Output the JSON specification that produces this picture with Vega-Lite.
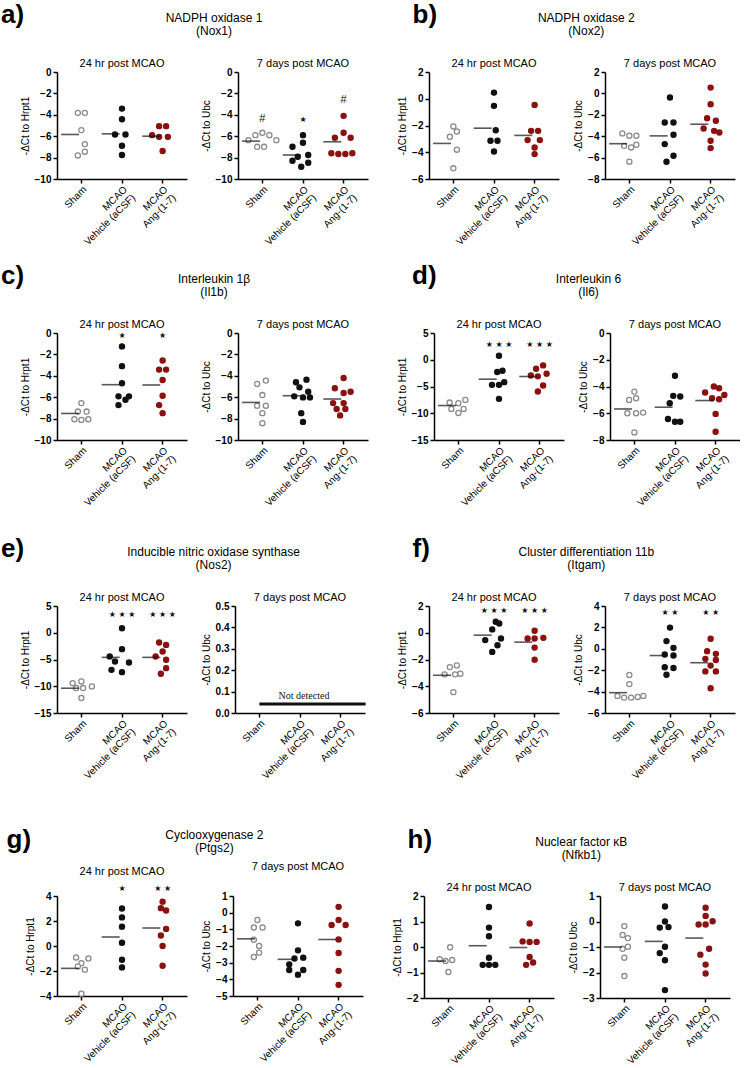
{
"$schema": "https://vega.github.io/schema/vega-lite/v6.json",
"background": "white",
"padding": {"left": 1, "top": 2, "right": 0, "bottom": 0},
"datasets": {
"pts": [
{"p":"a24","g":"S","s":-0.5,"v":-3.82},{"p":"a24","g":"S","s":0.5,"v":-3.82},{"p":"a24","g":"S","s":0,"v":-5.43},{"p":"a24","g":"S","s":0.5,"v":-6.74},{"p":"a24","g":"S","s":0.5,"v":-7.45},{"p":"a24","g":"S","s":-0.5,"v":-7.8},
{"p":"a24","g":"V","s":0,"v":-3.42},{"p":"a24","g":"V","s":0,"v":-4.41},{"p":"a24","g":"V","s":-1,"v":-5.84},{"p":"a24","g":"V","s":0.5,"v":-5.84},{"p":"a24","g":"V","s":0,"v":-6.89},{"p":"a24","g":"V","s":0,"v":-7.76},
{"p":"a24","g":"A","s":-0.5,"v":-5.06},{"p":"a24","g":"A","s":0.5,"v":-5.06},{"p":"a24","g":"A","s":-1.5,"v":-5.9},{"p":"a24","g":"A","s":-0.5,"v":-6.06},{"p":"a24","g":"A","s":0.75,"v":-6.06},{"p":"a24","g":"A","s":0,"v":-7.39},
{"p":"a7","g":"S","s":-1,"v":-5.9},{"p":"a7","g":"S","s":0,"v":-5.68},{"p":"a7","g":"S","s":1,"v":-5.9},{"p":"a7","g":"S","s":-2,"v":-6.37},{"p":"a7","g":"S","s":2,"v":-6.37},{"p":"a7","g":"S","s":-0.75,"v":-6.99},{"p":"a7","g":"S","s":0.25,"v":-6.99},
{"p":"a7","g":"V","s":0,"v":-5.9},{"p":"a7","g":"V","s":0,"v":-6.61},{"p":"a7","g":"V","s":-1.5,"v":-6.99},{"p":"a7","g":"V","s":0.75,"v":-7.76},{"p":"a7","g":"V","s":-0.75,"v":-7.92},{"p":"a7","g":"V","s":-1.5,"v":-8.29},{"p":"a7","g":"V","s":0.75,"v":-8.48},{"p":"a7","g":"V","s":-0.25,"v":-8.85},
{"p":"a7","g":"A","s":0,"v":-4.1},{"p":"a7","g":"A","s":0,"v":-5.68},{"p":"a7","g":"A","s":-1.25,"v":-6.15},{"p":"a7","g":"A","s":1,"v":-6.15},{"p":"a7","g":"A","s":-1.75,"v":-7.6},{"p":"a7","g":"A","s":-0.75,"v":-7.67},{"p":"a7","g":"A","s":0.25,"v":-7.67},{"p":"a7","g":"A","s":1.25,"v":-7.6},
{"p":"b24","g":"S","s":0,"v":-2.07},{"p":"b24","g":"S","s":0.5,"v":-2.45},{"p":"b24","g":"S","s":-0.5,"v":-2.84},{"p":"b24","g":"S","s":0.5,"v":-3.81},{"p":"b24","g":"S","s":0,"v":-5.2},
{"p":"b24","g":"V","s":0,"v":0.46},{"p":"b24","g":"V","s":0,"v":-0.53},{"p":"b24","g":"V","s":0.25,"v":-2.35},{"p":"b24","g":"V","s":-0.5,"v":-3.14},{"p":"b24","g":"V","s":0.5,"v":-3.14},{"p":"b24","g":"V","s":0,"v":-3.94},
{"p":"b24","g":"A","s":0,"v":-0.46},{"p":"b24","g":"A","s":-0.5,"v":-2.4},{"p":"b24","g":"A","s":0.5,"v":-2.4},{"p":"b24","g":"A","s":-1,"v":-3.09},{"p":"b24","g":"A","s":0.75,"v":-3.09},{"p":"b24","g":"A","s":0,"v":-3.64},{"p":"b24","g":"A","s":0,"v":-4.14},
{"p":"b7","g":"S","s":-1,"v":-3.74},{"p":"b7","g":"S","s":0,"v":-3.96},{"p":"b7","g":"S","s":1,"v":-3.96},{"p":"b7","g":"S","s":-0.75,"v":-4.9},{"p":"b7","g":"S","s":1,"v":-4.8},{"p":"b7","g":"S","s":0.25,"v":-5.05},{"p":"b7","g":"S","s":0,"v":-6.38},
{"p":"b7","g":"V","s":0,"v":-0.39},{"p":"b7","g":"V","s":-0.75,"v":-2.72},{"p":"b7","g":"V","s":0.5,"v":-2.72},{"p":"b7","g":"V","s":0.5,"v":-3.87},{"p":"b7","g":"V","s":-0.75,"v":-4.74},{"p":"b7","g":"V","s":0.5,"v":-5.83},{"p":"b7","g":"V","s":-0.5,"v":-6.39},
{"p":"b7","g":"A","s":0,"v":0.54},{"p":"b7","g":"A","s":0,"v":-1.01},{"p":"b7","g":"A","s":-0.5,"v":-2.32},{"p":"b7","g":"A","s":0.75,"v":-2.56},{"p":"b7","g":"A","s":-1,"v":-3.28},{"p":"b7","g":"A","s":0.5,"v":-3.5},{"p":"b7","g":"A","s":1.25,"v":-3.65},{"p":"b7","g":"A","s":0,"v":-4.43},{"p":"b7","g":"A","s":0,"v":-5.11},
{"p":"c24","g":"S","s":0,"v":-6.55},{"p":"c24","g":"S","s":-0.5,"v":-7.34},{"p":"c24","g":"S","s":0.75,"v":-7.34},{"p":"c24","g":"S","s":-1,"v":-8.06},{"p":"c24","g":"S","s":0,"v":-8.12},{"p":"c24","g":"S","s":1,"v":-8.06},
{"p":"c24","g":"V","s":0,"v":-1.25},{"p":"c24","g":"V","s":0,"v":-3.1},{"p":"c24","g":"V","s":0,"v":-4.7},{"p":"c24","g":"V","s":-0.5,"v":-5.92},{"p":"c24","g":"V","s":1,"v":-5.92},{"p":"c24","g":"V","s":0.5,"v":-6.24},{"p":"c24","g":"V","s":-0.5,"v":-6.74},
{"p":"c24","g":"A","s":0,"v":-2.57},{"p":"c24","g":"A","s":-0.5,"v":-3.42},{"p":"c24","g":"A","s":0.5,"v":-3.42},{"p":"c24","g":"A","s":0,"v":-4.39},{"p":"c24","g":"A","s":0,"v":-5.86},{"p":"c24","g":"A","s":-0.5,"v":-6.74},{"p":"c24","g":"A","s":0,"v":-7.49},
{"p":"c7","g":"S","s":0.5,"v":-4.45},{"p":"c7","g":"S","s":-0.75,"v":-4.76},{"p":"c7","g":"S","s":0,"v":-5.8},{"p":"c7","g":"S","s":-0.75,"v":-6.8},{"p":"c7","g":"S","s":0.5,"v":-6.8},{"p":"c7","g":"S","s":0,"v":-7.49},{"p":"c7","g":"S","s":0,"v":-8.43},
{"p":"c7","g":"V","s":-1,"v":-4.6},{"p":"c7","g":"V","s":0.5,"v":-4.36},{"p":"c7","g":"V","s":-0.5,"v":-5.08},{"p":"c7","g":"V","s":0.75,"v":-5.49},{"p":"c7","g":"V","s":-1.25,"v":-5.92},{"p":"c7","g":"V","s":0,"v":-6.02},{"p":"c7","g":"V","s":1,"v":-6.02},{"p":"c7","g":"V","s":-0.25,"v":-7.49},{"p":"c7","g":"V","s":0,"v":-8.31},
{"p":"c7","g":"A","s":0,"v":-4.2},{"p":"c7","g":"A","s":-1.25,"v":-5.17},{"p":"c7","g":"A","s":0,"v":-5.61},{"p":"c7","g":"A","s":1,"v":-5.49},{"p":"c7","g":"A","s":-1.5,"v":-6.55},{"p":"c7","g":"A","s":0,"v":-6.55},{"p":"c7","g":"A","s":-1,"v":-7.1},{"p":"c7","g":"A","s":0.25,"v":-7.1},{"p":"c7","g":"A","s":-0.5,"v":-7.7},
{"p":"d24","g":"S","s":-1.25,"v":-8.0},{"p":"d24","g":"S","s":0,"v":-8.12},{"p":"d24","g":"S","s":1,"v":-7.5},{"p":"d24","g":"S","s":-1,"v":-9.19},{"p":"d24","g":"S","s":0.75,"v":-9.19},{"p":"d24","g":"S","s":0,"v":-9.94},
{"p":"d24","g":"V","s":0,"v":0.75},{"p":"d24","g":"V","s":0.5,"v":-2.06},{"p":"d24","g":"V","s":-0.25,"v":-2.3},{"p":"d24","g":"V","s":0.75,"v":-4.19},{"p":"d24","g":"V","s":-1,"v":-4.69},{"p":"d24","g":"V","s":0,"v":-4.69},{"p":"d24","g":"V","s":0,"v":-7.31},
{"p":"d24","g":"A","s":0.5,"v":-1.06},{"p":"d24","g":"A","s":-0.5,"v":-1.69},{"p":"d24","g":"A","s":-1.25,"v":-2.94},{"p":"d24","g":"A","s":-0.25,"v":-3.1},{"p":"d24","g":"A","s":1,"v":-2.6},{"p":"d24","g":"A","s":0.5,"v":-4.8},{"p":"d24","g":"A","s":-0.25,"v":-5.94},
{"p":"d7","g":"S","s":0,"v":-4.38},{"p":"d7","g":"S","s":-0.75,"v":-5.0},{"p":"d7","g":"S","s":0.25,"v":-4.88},{"p":"d7","g":"S","s":-1,"v":-6.0},{"p":"d7","g":"S","s":0.25,"v":-6.0},{"p":"d7","g":"S","s":1.25,"v":-5.95},{"p":"d7","g":"S","s":0,"v":-7.43},
{"p":"d7","g":"V","s":0,"v":-3.2},{"p":"d7","g":"V","s":-0.25,"v":-4.7},{"p":"d7","g":"V","s":0.75,"v":-4.75},{"p":"d7","g":"V","s":-0.75,"v":-5.25},{"p":"d7","g":"V","s":-1,"v":-6.43},{"p":"d7","g":"V","s":0,"v":-6.63},{"p":"d7","g":"V","s":0.75,"v":-6.63},
{"p":"d7","g":"A","s":-0.25,"v":-4.0},{"p":"d7","g":"A","s":0.5,"v":-4.13},{"p":"d7","g":"A","s":-1.5,"v":-4.45},{"p":"d7","g":"A","s":1.25,"v":-4.63},{"p":"d7","g":"A","s":-0.5,"v":-4.88},{"p":"d7","g":"A","s":0.5,"v":-4.95},{"p":"d7","g":"A","s":0,"v":-6.05},{"p":"d7","g":"A","s":0,"v":-7.38},
{"p":"e24","g":"S","s":-1.25,"v":-9.41},{"p":"e24","g":"S","s":0,"v":-9.1},{"p":"e24","g":"S","s":-0.75,"v":-10.34},{"p":"e24","g":"S","s":0.25,"v":-10.34},{"p":"e24","g":"S","s":1.5,"v":-10.03},{"p":"e24","g":"S","s":0,"v":-12.2},
{"p":"e24","g":"V","s":0,"v":0.84},{"p":"e24","g":"V","s":0,"v":-3.07},{"p":"e24","g":"V","s":-1.75,"v":-4.44},{"p":"e24","g":"V","s":-1,"v":-5.37},{"p":"e24","g":"V","s":1,"v":-5.56},{"p":"e24","g":"V","s":-1.5,"v":-6.93},{"p":"e24","g":"V","s":0,"v":-7.36},
{"p":"e24","g":"A","s":-0.5,"v":-1.83},{"p":"e24","g":"A","s":0.5,"v":-2.27},{"p":"e24","g":"A","s":0,"v":-3.51},{"p":"e24","g":"A","s":-1,"v":-4.44},{"p":"e24","g":"A","s":0.5,"v":-5.06},{"p":"e24","g":"A","s":0.5,"v":-6.62},{"p":"e24","g":"A","s":-0.25,"v":-7.67},
{"p":"f24","g":"S","s":-0.5,"v":-2.57},{"p":"f24","g":"S","s":0.5,"v":-2.44},{"p":"f24","g":"S","s":-1.25,"v":-3.11},{"p":"f24","g":"S","s":0.25,"v":-3.11},{"p":"f24","g":"S","s":1,"v":-3.06},{"p":"f24","g":"S","s":0,"v":-4.44},
{"p":"f24","g":"V","s":0.25,"v":0.82},{"p":"f24","g":"V","s":0.75,"v":0.69},{"p":"f24","g":"V","s":-0.25,"v":0.25},{"p":"f24","g":"V","s":1,"v":-0.43},{"p":"f24","g":"V","s":-1.25,"v":-0.55},{"p":"f24","g":"V","s":0.5,"v":-0.93},{"p":"f24","g":"V","s":-0.25,"v":-1.43},
{"p":"f24","g":"A","s":0,"v":0.15},{"p":"f24","g":"A","s":-1,"v":-0.43},{"p":"f24","g":"A","s":0,"v":-0.43},{"p":"f24","g":"A","s":1.25,"v":-0.38},{"p":"f24","g":"A","s":0,"v":-1.11},{"p":"f24","g":"A","s":0,"v":-2.01},
{"p":"f7","g":"S","s":0,"v":-2.45},{"p":"f7","g":"S","s":0,"v":-3.3},{"p":"f7","g":"S","s":-1.7,"v":-4.4},{"p":"f7","g":"S","s":-0.75,"v":-4.56},{"p":"f7","g":"S","s":0.25,"v":-4.56},{"p":"f7","g":"S","s":1.2,"v":-4.5},{"p":"f7","g":"S","s":2,"v":-4.4},
{"p":"f7","g":"V","s":0,"v":1.98},{"p":"f7","g":"V","s":-0.5,"v":0.72},{"p":"f7","g":"V","s":0.5,"v":0.09},{"p":"f7","g":"V","s":-0.75,"v":-0.53},{"p":"f7","g":"V","s":0.5,"v":-0.63},{"p":"f7","g":"V","s":-0.75,"v":-1.73},{"p":"f7","g":"V","s":0.5,"v":-1.79},{"p":"f7","g":"V","s":-0.5,"v":-2.42},
{"p":"f7","g":"A","s":0,"v":0.94},{"p":"f7","g":"A","s":-0.5,"v":-0.22},{"p":"f7","g":"A","s":0.75,"v":-0.47},{"p":"f7","g":"A","s":-0.75,"v":-0.94},{"p":"f7","g":"A","s":0.75,"v":-1.04},{"p":"f7","g":"A","s":0,"v":-1.57},{"p":"f7","g":"A","s":0.75,"v":-2.11},{"p":"f7","g":"A","s":-0.75,"v":-2.11},{"p":"f7","g":"A","s":0,"v":-3.68},
{"p":"g24","g":"S","s":-0.75,"v":-0.92},{"p":"g24","g":"S","s":1,"v":-1.0},{"p":"g24","g":"S","s":0,"v":-1.37},{"p":"g24","g":"S","s":-0.5,"v":-1.63},{"p":"g24","g":"S","s":0.5,"v":-1.89},{"p":"g24","g":"S","s":0,"v":-3.82},
{"p":"g24","g":"V","s":0,"v":3.0},{"p":"g24","g":"V","s":0,"v":2.29},{"p":"g24","g":"V","s":0,"v":1.55},{"p":"g24","g":"V","s":0,"v":0.26},{"p":"g24","g":"V","s":0,"v":-1.1},{"p":"g24","g":"V","s":0,"v":-1.71},
{"p":"g24","g":"A","s":0,"v":3.55},{"p":"g24","g":"A","s":-0.25,"v":3.03},{"p":"g24","g":"A","s":0.5,"v":2.84},{"p":"g24","g":"A","s":0.5,"v":1.37},{"p":"g24","g":"A","s":-0.25,"v":0.84},{"p":"g24","g":"A","s":0,"v":0.0},{"p":"g24","g":"A","s":0,"v":-1.58},
{"p":"g7","g":"S","s":0,"v":-0.44},{"p":"g7","g":"S","s":-0.5,"v":-0.89},{"p":"g7","g":"S","s":0.75,"v":-0.89},{"p":"g7","g":"S","s":-0.5,"v":-1.62},{"p":"g7","g":"S","s":0.25,"v":-2.0},{"p":"g7","g":"S","s":0.25,"v":-2.4},{"p":"g7","g":"S","s":-0.5,"v":-2.66},
{"p":"g7","g":"V","s":0,"v":-0.64},{"p":"g7","g":"V","s":0,"v":-2.26},{"p":"g7","g":"V","s":0.75,"v":-2.7},{"p":"g7","g":"V","s":-0.5,"v":-2.75},{"p":"g7","g":"V","s":-1.25,"v":-3.1},{"p":"g7","g":"V","s":0.75,"v":-3.44},{"p":"g7","g":"V","s":-1.25,"v":-3.44},{"p":"g7","g":"V","s":0,"v":-3.72},
{"p":"g7","g":"A","s":0,"v":0.35},{"p":"g7","g":"A","s":0,"v":-0.44},{"p":"g7","g":"A","s":-1,"v":-0.74},{"p":"g7","g":"A","s":1,"v":-0.74},{"p":"g7","g":"A","s":0,"v":-1.61},{"p":"g7","g":"A","s":0,"v":-2.42},{"p":"g7","g":"A","s":0,"v":-3.49},{"p":"g7","g":"A","s":0,"v":-4.33},
{"p":"h24","g":"S","s":0.25,"v":-0.01},{"p":"h24","g":"S","s":-1.25,"v":-0.48},{"p":"h24","g":"S","s":-0.4,"v":-0.55},{"p":"h24","g":"S","s":0.55,"v":-0.51},{"p":"h24","g":"S","s":0,"v":-0.98},
{"p":"h24","g":"V","s":0,"v":1.57},{"p":"h24","g":"V","s":0,"v":0.76},{"p":"h24","g":"V","s":0,"v":0.42},{"p":"h24","g":"V","s":0,"v":-0.42},{"p":"h24","g":"V","s":-0.9,"v":-0.7},{"p":"h24","g":"V","s":0,"v":-0.7},{"p":"h24","g":"V","s":0.9,"v":-0.7},
{"p":"h24","g":"A","s":0,"v":0.92},{"p":"h24","g":"A","s":-1,"v":0.22},{"p":"h24","g":"A","s":0,"v":0.2},{"p":"h24","g":"A","s":1,"v":0.2},{"p":"h24","g":"A","s":0,"v":-0.39},{"p":"h24","g":"A","s":0.5,"v":-0.61},{"p":"h24","g":"A","s":-0.5,"v":-0.7},
{"p":"h7","g":"S","s":0,"v":-0.18},{"p":"h7","g":"S","s":-0.25,"v":-0.53},{"p":"h7","g":"S","s":0.5,"v":-0.65},{"p":"h7","g":"S","s":-0.25,"v":-1.07},{"p":"h7","g":"S","s":0.5,"v":-0.99},{"p":"h7","g":"S","s":0,"v":-1.42},{"p":"h7","g":"S","s":0,"v":-2.14},
{"p":"h7","g":"V","s":0,"v":0.59},{"p":"h7","g":"V","s":0,"v":0.0},{"p":"h7","g":"V","s":-0.75,"v":-0.24},{"p":"h7","g":"V","s":0.5,"v":-0.22},{"p":"h7","g":"V","s":0,"v":-0.99},{"p":"h7","g":"V","s":-0.75,"v":-1.24},{"p":"h7","g":"V","s":0,"v":-1.52},{"p":"h7","g":"V","s":0,"v":-2.69},
{"p":"h7","g":"A","s":0,"v":0.54},{"p":"h7","g":"A","s":0,"v":0.22},{"p":"h7","g":"A","s":-1,"v":-0.12},{"p":"h7","g":"A","s":0,"v":-0.12},{"p":"h7","g":"A","s":1,"v":0.01},{"p":"h7","g":"A","s":0.5,"v":-1.07},{"p":"h7","g":"A","s":-0.75,"v":-1.3},{"p":"h7","g":"A","s":0,"v":-1.69},{"p":"h7","g":"A","s":0,"v":-2.04}
],
"mean": [
{"p":"a24","g":"S","v":-5.84},{"p":"a24","g":"V","v":-5.78},{"p":"a24","g":"A","v":-6.0},
{"p":"a7","g":"S","v":-6.46},{"p":"a7","g":"V","v":-7.76},{"p":"a7","g":"A","v":-6.52},
{"p":"b24","g":"S","v":-3.34},{"p":"b24","g":"V","v":-2.2},{"p":"b24","g":"A","v":-2.74},
{"p":"b7","g":"S","v":-4.7},{"p":"b7","g":"V","v":-3.97},{"p":"b7","g":"A","v":-2.88},
{"p":"c24","g":"S","v":-7.52},{"p":"c24","g":"V","v":-4.83},{"p":"c24","g":"A","v":-4.86},
{"p":"c7","g":"S","v":-6.49},{"p":"c7","g":"V","v":-5.86},{"p":"c7","g":"A","v":-6.17},
{"p":"d24","g":"S","v":-8.56},{"p":"d24","g":"V","v":-3.63},{"p":"d24","g":"A","v":-3.13},
{"p":"d7","g":"S","v":-5.68},{"p":"d7","g":"V","v":-5.55},{"p":"d7","g":"A","v":-5.05},
{"p":"e24","g":"S","v":-10.37},{"p":"e24","g":"V","v":-4.6},{"p":"e24","g":"A","v":-4.6},
{"p":"f24","g":"S","v":-3.18},{"p":"f24","g":"V","v":-0.18},{"p":"f24","g":"A","v":-0.7},
{"p":"f7","g":"S","v":-4.1},{"p":"f7","g":"V","v":-0.63},{"p":"f7","g":"A","v":-1.3},
{"p":"g24","g":"S","v":-1.79},{"p":"g24","g":"V","v":0.72},{"p":"g24","g":"A","v":1.44},
{"p":"g7","g":"S","v":-1.57},{"p":"g7","g":"V","v":-2.8},{"p":"g7","g":"A","v":-1.61},
{"p":"h24","g":"S","v":-0.55},{"p":"h24","g":"V","v":0.05},{"p":"h24","g":"A","v":-0.02},
{"p":"h7","g":"S","v":-1.0},{"p":"h7","g":"V","v":-0.78},{"p":"h7","g":"A","v":-0.65}
],
"sig": [
{"p":"a7","g":"S","v":-4.35,"t":"#"},{"p":"a7","g":"V","v":-4.5,"t":"★"},{"p":"a7","g":"A","v":-2.58,"t":"#"},
{"p":"c24","g":"V","v":-0.28,"t":"★"},{"p":"c24","g":"A","v":-0.28,"t":"★"},
{"p":"d24","g":"V","v":2.81,"t":"★ ★ ★"},{"p":"d24","g":"A","v":2.81,"t":"★ ★ ★"},
{"p":"e24","g":"V","v":3.32,"t":"★ ★ ★"},{"p":"e24","g":"A","v":3.32,"t":"★ ★ ★"},
{"p":"f24","g":"V","v":1.65,"t":"★ ★ ★"},{"p":"f24","g":"A","v":1.65,"t":"★ ★ ★"},
{"p":"f7","g":"V","v":3.3,"t":"★ ★"},{"p":"f7","g":"A","v":3.3,"t":"★ ★"},
{"p":"g24","g":"V","v":4.53,"t":"★"},{"p":"g24","g":"A","v":4.53,"t":"★ ★"}
],
"nd": [{"p":"e7","g":"S","g2":"A","v":0.042}],
"ndt": [{"p":"e7","g":"V","v":0.058,"t":"Not detected"}]
},
"vconcat": [
{"hconcat": [
 {"title":{"text":"a)","anchor":"start","fontSize":26,"fontWeight":"bold","offset":-16,"dx":-19,"frame":"bounds"},
  "vconcat":[{"title":{"text":["NADPH oxidase 1","(Nox1)"],"anchor":"middle","fontSize":12,"offset":20,"lineHeight":13,"frame":"bounds","dx":20},"spacing":14,
  "hconcat":[
   {"width":130,"height":107,"title":"24 hr post MCAO",
    "encoding":{"x":{"field":"g","type":"nominal","scale":{"type":"band","domain":["S","V","A"],"paddingInner":0,"paddingOuter":0.1},"axis":{"title":null,"labelExpr":"datum.label=='S'?'Sham':datum.label=='V'?['MCAO','Vehicle (aCSF)']:['MCAO','Ang-(1-7)']"}},
     "y":{"field":"v","type":"quantitative","scale":{"domain":[-10,0],"nice":false,"zero":false},"axis":{"title":"-ΔCt to Hrpt1","values":[0,-2,-4,-6,-8,-10]}}},
    "layer":[
     {"data":{"name":"pts"},"transform":[{"filter":"datum.p=='a24'"}],"mark":"point","encoding":{"xOffset":{"field":"s","type":"quantitative","scale":{"domain":[-4,4],"range":[-7.7,48.3]}},"fill":{"field":"g","type":"nominal","scale":{"domain":["S","V","A"],"range":["#ffffff","#111111","#8b1111"]},"legend":null},"stroke":{"field":"g","type":"nominal","scale":{"domain":["S","V","A"],"range":["#8a8a8a","#111111","#8b1111"]},"legend":null}}},
     {"data":{"name":"mean"},"transform":[{"filter":"datum.p=='a24'"}],"mark":"tick"}
    ]},
   {"width":130,"height":107,"title":"7 days post MCAO",
    "encoding":{"x":{"field":"g","type":"nominal","scale":{"type":"band","domain":["S","V","A"],"paddingInner":0,"paddingOuter":0.1},"axis":{"title":null,"labelExpr":"datum.label=='S'?'Sham':datum.label=='V'?['MCAO','Vehicle (aCSF)']:['MCAO','Ang-(1-7)']"}},
     "y":{"field":"v","type":"quantitative","scale":{"domain":[-10,0],"nice":false,"zero":false},"axis":{"title":"-ΔCt to Ubc","values":[0,-2,-4,-6,-8,-10]}}},
    "layer":[
     {"data":{"name":"pts"},"transform":[{"filter":"datum.p=='a7'"}],"mark":"point","encoding":{"xOffset":{"field":"s","type":"quantitative","scale":{"domain":[-4,4],"range":[-7.7,48.3]}},"fill":{"field":"g","type":"nominal","scale":{"domain":["S","V","A"],"range":["#ffffff","#111111","#8b1111"]},"legend":null},"stroke":{"field":"g","type":"nominal","scale":{"domain":["S","V","A"],"range":["#8a8a8a","#111111","#8b1111"]},"legend":null}}},
     {"data":{"name":"mean"},"transform":[{"filter":"datum.p=='a7'"}],"mark":"tick"},
     {"data":{"name":"sig"},"transform":[{"filter":"datum.p=='a7' && datum.t!='#'"}],"mark":"text","encoding":{"text":{"field":"t"}}},
     {"data":{"name":"sig"},"transform":[{"filter":"datum.p=='a7' && datum.t=='#'"}],"mark":{"type":"text","fontSize":11,"font":"Liberation Sans"},"encoding":{"text":{"field":"t"}}}
    ]}
  ]}]},
 {"title":{"text":"b)","anchor":"start","fontSize":26,"fontWeight":"bold","offset":-16,"dx":15,"frame":"bounds"},
  "vconcat":[{"title":{"text":["NADPH oxidase 2","(Nox2)"],"anchor":"middle","fontSize":12,"offset":20,"lineHeight":13,"frame":"bounds","dx":20},"spacing":14,
  "hconcat":[
   {"width":130,"height":107,"title":"24 hr post MCAO",
    "encoding":{"x":{"field":"g","type":"nominal","scale":{"type":"band","domain":["S","V","A"],"paddingInner":0,"paddingOuter":0.1},"axis":{"title":null,"labelExpr":"datum.label=='S'?'Sham':datum.label=='V'?['MCAO','Vehicle (aCSF)']:['MCAO','Ang-(1-7)']"}},
     "y":{"field":"v","type":"quantitative","scale":{"domain":[-6,2],"nice":false,"zero":false},"axis":{"title":"-ΔCt to Hrpt1","values":[2,0,-2,-4,-6]}}},
    "layer":[
     {"data":{"name":"pts"},"transform":[{"filter":"datum.p=='b24'"}],"mark":"point","encoding":{"xOffset":{"field":"s","type":"quantitative","scale":{"domain":[-4,4],"range":[-7.7,48.3]}},"fill":{"field":"g","type":"nominal","scale":{"domain":["S","V","A"],"range":["#ffffff","#111111","#8b1111"]},"legend":null},"stroke":{"field":"g","type":"nominal","scale":{"domain":["S","V","A"],"range":["#8a8a8a","#111111","#8b1111"]},"legend":null}}},
     {"data":{"name":"mean"},"transform":[{"filter":"datum.p=='b24'"}],"mark":"tick"}
    ]},
   {"width":130,"height":107,"title":"7 days post MCAO",
    "encoding":{"x":{"field":"g","type":"nominal","scale":{"type":"band","domain":["S","V","A"],"paddingInner":0,"paddingOuter":0.1},"axis":{"title":null,"labelExpr":"datum.label=='S'?'Sham':datum.label=='V'?['MCAO','Vehicle (aCSF)']:['MCAO','Ang-(1-7)']"}},
     "y":{"field":"v","type":"quantitative","scale":{"domain":[-8,2],"nice":false,"zero":false},"axis":{"title":"-ΔCt to Ubc","values":[2,0,-2,-4,-6,-8]}}},
    "layer":[
     {"data":{"name":"pts"},"transform":[{"filter":"datum.p=='b7'"}],"mark":"point","encoding":{"xOffset":{"field":"s","type":"quantitative","scale":{"domain":[-4,4],"range":[-7.7,48.3]}},"fill":{"field":"g","type":"nominal","scale":{"domain":["S","V","A"],"range":["#ffffff","#111111","#8b1111"]},"legend":null},"stroke":{"field":"g","type":"nominal","scale":{"domain":["S","V","A"],"range":["#8a8a8a","#111111","#8b1111"]},"legend":null}}},
     {"data":{"name":"mean"},"transform":[{"filter":"datum.p=='b7'"}],"mark":"tick"}
    ]}
  ]}]}
], "spacing": 29},
{"vconcat": [
{"hconcat": [
 {"title":{"text":"c)","anchor":"start","fontSize":26,"fontWeight":"bold","offset":-16,"dx":-19,"frame":"bounds"},
  "vconcat":[{"title":{"text":["Interleukin 1β","(Il1b)"],"anchor":"middle","fontSize":12,"offset":20,"lineHeight":13,"frame":"bounds","dx":20},"spacing":14,
  "hconcat":[
   {"width":130,"height":107,"title":"24 hr post MCAO",
    "encoding":{"x":{"field":"g","type":"nominal","scale":{"type":"band","domain":["S","V","A"],"paddingInner":0,"paddingOuter":0.1},"axis":{"title":null,"labelExpr":"datum.label=='S'?'Sham':datum.label=='V'?['MCAO','Vehicle (aCSF)']:['MCAO','Ang-(1-7)']"}},
     "y":{"field":"v","type":"quantitative","scale":{"domain":[-10,0],"nice":false,"zero":false},"axis":{"title":"-ΔCt to Hrpt1","values":[0,-2,-4,-6,-8,-10]}}},
    "layer":[
     {"data":{"name":"pts"},"transform":[{"filter":"datum.p=='c24'"}],"mark":"point","encoding":{"xOffset":{"field":"s","type":"quantitative","scale":{"domain":[-4,4],"range":[-7.7,48.3]}},"fill":{"field":"g","type":"nominal","scale":{"domain":["S","V","A"],"range":["#ffffff","#111111","#8b1111"]},"legend":null},"stroke":{"field":"g","type":"nominal","scale":{"domain":["S","V","A"],"range":["#8a8a8a","#111111","#8b1111"]},"legend":null}}},
     {"data":{"name":"mean"},"transform":[{"filter":"datum.p=='c24'"}],"mark":"tick"},
     {"data":{"name":"sig"},"transform":[{"filter":"datum.p=='c24'"}],"mark":"text","encoding":{"text":{"field":"t"}}}
    ]},
   {"width":130,"height":107,"title":"7 days post MCAO",
    "encoding":{"x":{"field":"g","type":"nominal","scale":{"type":"band","domain":["S","V","A"],"paddingInner":0,"paddingOuter":0.1},"axis":{"title":null,"labelExpr":"datum.label=='S'?'Sham':datum.label=='V'?['MCAO','Vehicle (aCSF)']:['MCAO','Ang-(1-7)']"}},
     "y":{"field":"v","type":"quantitative","scale":{"domain":[-10,0],"nice":false,"zero":false},"axis":{"title":"-ΔCt to Ubc","values":[0,-2,-4,-6,-8,-10]}}},
    "layer":[
     {"data":{"name":"pts"},"transform":[{"filter":"datum.p=='c7'"}],"mark":"point","encoding":{"xOffset":{"field":"s","type":"quantitative","scale":{"domain":[-4,4],"range":[-7.7,48.3]}},"fill":{"field":"g","type":"nominal","scale":{"domain":["S","V","A"],"range":["#ffffff","#111111","#8b1111"]},"legend":null},"stroke":{"field":"g","type":"nominal","scale":{"domain":["S","V","A"],"range":["#8a8a8a","#111111","#8b1111"]},"legend":null}}},
     {"data":{"name":"mean"},"transform":[{"filter":"datum.p=='c7'"}],"mark":"tick"}
    ]}
  ]}]},
 {"title":{"text":"d)","anchor":"start","fontSize":26,"fontWeight":"bold","offset":-16,"dx":15,"frame":"bounds"},
  "vconcat":[{"title":{"text":["Interleukin 6","(Il6)"],"anchor":"middle","fontSize":12,"offset":20,"lineHeight":13,"frame":"bounds","dx":20},"spacing":14,
  "hconcat":[
   {"width":130,"height":107,"title":"24 hr post MCAO",
    "encoding":{"x":{"field":"g","type":"nominal","scale":{"type":"band","domain":["S","V","A"],"paddingInner":0,"paddingOuter":0.1},"axis":{"title":null,"labelExpr":"datum.label=='S'?'Sham':datum.label=='V'?['MCAO','Vehicle (aCSF)']:['MCAO','Ang-(1-7)']"}},
     "y":{"field":"v","type":"quantitative","scale":{"domain":[-15,5],"nice":false,"zero":false},"axis":{"title":"-ΔCt to Hrpt1","values":[5,0,-5,-10,-15]}}},
    "layer":[
     {"data":{"name":"pts"},"transform":[{"filter":"datum.p=='d24'"}],"mark":"point","encoding":{"xOffset":{"field":"s","type":"quantitative","scale":{"domain":[-4,4],"range":[-7.7,48.3]}},"fill":{"field":"g","type":"nominal","scale":{"domain":["S","V","A"],"range":["#ffffff","#111111","#8b1111"]},"legend":null},"stroke":{"field":"g","type":"nominal","scale":{"domain":["S","V","A"],"range":["#8a8a8a","#111111","#8b1111"]},"legend":null}}},
     {"data":{"name":"mean"},"transform":[{"filter":"datum.p=='d24'"}],"mark":"tick"},
     {"data":{"name":"sig"},"transform":[{"filter":"datum.p=='d24'"}],"mark":"text","encoding":{"text":{"field":"t"}}}
    ]},
   {"width":130,"height":107,"title":"7 days post MCAO",
    "encoding":{"x":{"field":"g","type":"nominal","scale":{"type":"band","domain":["S","V","A"],"paddingInner":0,"paddingOuter":0.1},"axis":{"title":null,"labelExpr":"datum.label=='S'?'Sham':datum.label=='V'?['MCAO','Vehicle (aCSF)']:['MCAO','Ang-(1-7)']"}},
     "y":{"field":"v","type":"quantitative","scale":{"domain":[-8,0],"nice":false,"zero":false},"axis":{"title":"-ΔCt to Ubc","values":[0,-2,-4,-6,-8]}}},
    "layer":[
     {"data":{"name":"pts"},"transform":[{"filter":"datum.p=='d7'"}],"mark":"point","encoding":{"xOffset":{"field":"s","type":"quantitative","scale":{"domain":[-4,4],"range":[-7.7,48.3]}},"fill":{"field":"g","type":"nominal","scale":{"domain":["S","V","A"],"range":["#ffffff","#111111","#8b1111"]},"legend":null},"stroke":{"field":"g","type":"nominal","scale":{"domain":["S","V","A"],"range":["#8a8a8a","#111111","#8b1111"]},"legend":null}}},
     {"data":{"name":"mean"},"transform":[{"filter":"datum.p=='d7'"}],"mark":"tick"}
    ]}
  ]}]}
], "spacing": 29},
{"vconcat": [
{"hconcat": [
 {"title":{"text":"e)","anchor":"start","fontSize":26,"fontWeight":"bold","offset":-16,"dx":-19,"frame":"bounds"},
  "vconcat":[{"title":{"text":["Inducible nitric oxidase synthase","(Nos2)"],"anchor":"middle","fontSize":12,"offset":20,"lineHeight":13,"frame":"bounds","dx":20},"spacing":14,
  "hconcat":[
   {"width":130,"height":107,"title":"24 hr post MCAO",
    "encoding":{"x":{"field":"g","type":"nominal","scale":{"type":"band","domain":["S","V","A"],"paddingInner":0,"paddingOuter":0.1},"axis":{"title":null,"labelExpr":"datum.label=='S'?'Sham':datum.label=='V'?['MCAO','Vehicle (aCSF)']:['MCAO','Ang-(1-7)']"}},
     "y":{"field":"v","type":"quantitative","scale":{"domain":[-15,5],"nice":false,"zero":false},"axis":{"title":"-ΔCt to Hrpt1","values":[5,0,-5,-10,-15]}}},
    "layer":[
     {"data":{"name":"pts"},"transform":[{"filter":"datum.p=='e24'"}],"mark":"point","encoding":{"xOffset":{"field":"s","type":"quantitative","scale":{"domain":[-4,4],"range":[-7.7,48.3]}},"fill":{"field":"g","type":"nominal","scale":{"domain":["S","V","A"],"range":["#ffffff","#111111","#8b1111"]},"legend":null},"stroke":{"field":"g","type":"nominal","scale":{"domain":["S","V","A"],"range":["#8a8a8a","#111111","#8b1111"]},"legend":null}}},
     {"data":{"name":"mean"},"transform":[{"filter":"datum.p=='e24'"}],"mark":"tick"},
     {"data":{"name":"sig"},"transform":[{"filter":"datum.p=='e24'"}],"mark":"text","encoding":{"text":{"field":"t"}}}
    ]},
   {"width":130,"height":107,"title":"7 days post MCAO",
    "encoding":{"x":{"field":"g","type":"nominal","scale":{"type":"band","domain":["S","V","A"],"paddingInner":0,"paddingOuter":0.1},"axis":{"title":null,"labelExpr":"datum.label=='S'?'Sham':datum.label=='V'?['MCAO','Vehicle (aCSF)']:['MCAO','Ang-(1-7)']"}},
     "y":{"field":"v","type":"quantitative","scale":{"domain":[0,0.5],"nice":false,"zero":false},"axis":{"title":"-ΔCt to Ubc","values":[0,0.1,0.2,0.3,0.4,0.5],"format":".1f"}}},
    "layer":[
     {"data":{"name":"nd"},"mark":{"type":"rule","strokeWidth":3,"color":"#111111","x2Offset":25},"encoding":{"x2":{"field":"g2"}}},
     {"data":{"name":"ndt"},"mark":{"type":"text","font":"Liberation Serif","fontSize":10,"dx":4,"baseline":"bottom","color":"#111111"},"encoding":{"text":{"field":"t"}}}
    ]}
  ]}]},
 {"title":{"text":"f)","anchor":"start","fontSize":26,"fontWeight":"bold","offset":-16,"dx":15,"frame":"bounds"},
  "vconcat":[{"title":{"text":["Cluster differentiation 11b","(Itgam)"],"anchor":"middle","fontSize":12,"offset":20,"lineHeight":13,"frame":"bounds","dx":20},"spacing":14,
  "hconcat":[
   {"width":130,"height":107,"title":"24 hr post MCAO",
    "encoding":{"x":{"field":"g","type":"nominal","scale":{"type":"band","domain":["S","V","A"],"paddingInner":0,"paddingOuter":0.1},"axis":{"title":null,"labelExpr":"datum.label=='S'?'Sham':datum.label=='V'?['MCAO','Vehicle (aCSF)']:['MCAO','Ang-(1-7)']"}},
     "y":{"field":"v","type":"quantitative","scale":{"domain":[-6,2],"nice":false,"zero":false},"axis":{"title":"-ΔCt to Hrpt1","values":[2,0,-2,-4,-6]}}},
    "layer":[
     {"data":{"name":"pts"},"transform":[{"filter":"datum.p=='f24'"}],"mark":"point","encoding":{"xOffset":{"field":"s","type":"quantitative","scale":{"domain":[-4,4],"range":[-7.7,48.3]}},"fill":{"field":"g","type":"nominal","scale":{"domain":["S","V","A"],"range":["#ffffff","#111111","#8b1111"]},"legend":null},"stroke":{"field":"g","type":"nominal","scale":{"domain":["S","V","A"],"range":["#8a8a8a","#111111","#8b1111"]},"legend":null}}},
     {"data":{"name":"mean"},"transform":[{"filter":"datum.p=='f24'"}],"mark":"tick"},
     {"data":{"name":"sig"},"transform":[{"filter":"datum.p=='f24'"}],"mark":"text","encoding":{"text":{"field":"t"}}}
    ]},
   {"width":130,"height":107,"title":"7 days post MCAO",
    "encoding":{"x":{"field":"g","type":"nominal","scale":{"type":"band","domain":["S","V","A"],"paddingInner":0,"paddingOuter":0.1},"axis":{"title":null,"labelExpr":"datum.label=='S'?'Sham':datum.label=='V'?['MCAO','Vehicle (aCSF)']:['MCAO','Ang-(1-7)']"}},
     "y":{"field":"v","type":"quantitative","scale":{"domain":[-6,4],"nice":false,"zero":false},"axis":{"title":"-ΔCt to Ubc","values":[4,2,0,-2,-4,-6]}}},
    "layer":[
     {"data":{"name":"pts"},"transform":[{"filter":"datum.p=='f7'"}],"mark":"point","encoding":{"xOffset":{"field":"s","type":"quantitative","scale":{"domain":[-4,4],"range":[-7.7,48.3]}},"fill":{"field":"g","type":"nominal","scale":{"domain":["S","V","A"],"range":["#ffffff","#111111","#8b1111"]},"legend":null},"stroke":{"field":"g","type":"nominal","scale":{"domain":["S","V","A"],"range":["#8a8a8a","#111111","#8b1111"]},"legend":null}}},
     {"data":{"name":"mean"},"transform":[{"filter":"datum.p=='f7'"}],"mark":"tick"},
     {"data":{"name":"sig"},"transform":[{"filter":"datum.p=='f7'"}],"mark":"text","encoding":{"text":{"field":"t"}}}
    ]}
  ]}]}
], "spacing": 29},
{"hconcat": [
 {"title":{"text":"g)","anchor":"start","fontSize":26,"fontWeight":"bold","offset":-24,"dx":-19,"frame":"bounds"},
  "vconcat":[{"title":{"text":["Cyclooxygenase 2","(Ptgs2)"],"anchor":"middle","fontSize":12,"offset":6,"lineHeight":13,"frame":"bounds","dx":20},"spacing":14,
  "hconcat":[
   {"width":130,"height":100,"title":{"text":"24 hr post MCAO","offset":8},
    "encoding":{"x":{"field":"g","type":"nominal","scale":{"type":"band","domain":["S","V","A"],"paddingInner":0,"paddingOuter":0.1},"axis":{"title":null,"labelExpr":"datum.label=='S'?'Sham':datum.label=='V'?['MCAO','Vehicle (aCSF)']:['MCAO','Ang-(1-7)']"}},
     "y":{"field":"v","type":"quantitative","scale":{"domain":[-4,4],"nice":false,"zero":false},"axis":{"title":"-ΔCt to Hrpt1","values":[4,2,0,-2,-4]}}},
    "layer":[
     {"data":{"name":"pts"},"transform":[{"filter":"datum.p=='g24'"}],"mark":"point","encoding":{"xOffset":{"field":"s","type":"quantitative","scale":{"domain":[-4,4],"range":[-7.7,48.3]}},"fill":{"field":"g","type":"nominal","scale":{"domain":["S","V","A"],"range":["#ffffff","#111111","#8b1111"]},"legend":null},"stroke":{"field":"g","type":"nominal","scale":{"domain":["S","V","A"],"range":["#8a8a8a","#111111","#8b1111"]},"legend":null}}},
     {"data":{"name":"mean"},"transform":[{"filter":"datum.p=='g24'"}],"mark":"tick"},
     {"data":{"name":"sig"},"transform":[{"filter":"datum.p=='g24'"}],"mark":"text","encoding":{"text":{"field":"t"}}}
    ]},
   {"width":130,"height":100,"title":{"text":"7 days post MCAO","offset":19},
    "encoding":{"x":{"field":"g","type":"nominal","scale":{"type":"band","domain":["S","V","A"],"paddingInner":0,"paddingOuter":0.1},"axis":{"title":null,"labelExpr":"datum.label=='S'?'Sham':datum.label=='V'?['MCAO','Vehicle (aCSF)']:['MCAO','Ang-(1-7)']"}},
     "y":{"field":"v","type":"quantitative","scale":{"domain":[-5,1],"nice":false,"zero":false},"axis":{"title":"-ΔCt to Ubc","values":[1,0,-1,-2,-3,-4,-5]}}},
    "layer":[
     {"data":{"name":"pts"},"transform":[{"filter":"datum.p=='g7'"}],"mark":"point","encoding":{"xOffset":{"field":"s","type":"quantitative","scale":{"domain":[-4,4],"range":[-7.7,48.3]}},"fill":{"field":"g","type":"nominal","scale":{"domain":["S","V","A"],"range":["#ffffff","#111111","#8b1111"]},"legend":null},"stroke":{"field":"g","type":"nominal","scale":{"domain":["S","V","A"],"range":["#8a8a8a","#111111","#8b1111"]},"legend":null}}},
     {"data":{"name":"mean"},"transform":[{"filter":"datum.p=='g7'"}],"mark":"tick"}
    ]}
  ]}]},
 {"title":{"text":"h)","anchor":"start","fontSize":26,"fontWeight":"bold","offset":-17,"dx":15,"frame":"bounds"},
  "vconcat":[{"title":{"text":["Nuclear factor κB","(Nfkb1)"],"anchor":"middle","fontSize":12,"offset":20,"lineHeight":13,"frame":"bounds","dx":20},"spacing":14,
  "hconcat":[
   {"width":130,"height":102,"title":"24 hr post MCAO",
    "encoding":{"x":{"field":"g","type":"nominal","scale":{"type":"band","domain":["S","V","A"],"paddingInner":0,"paddingOuter":0.1},"axis":{"title":null,"labelExpr":"datum.label=='S'?'Sham':datum.label=='V'?['MCAO','Vehicle (aCSF)']:['MCAO','Ang-(1-7)']"}},
     "y":{"field":"v","type":"quantitative","scale":{"domain":[-2,2],"nice":false,"zero":false},"axis":{"title":"-ΔCt to Hrpt1","values":[2,1,0,-1,-2]}}},
    "layer":[
     {"data":{"name":"pts"},"transform":[{"filter":"datum.p=='h24'"}],"mark":"point","encoding":{"xOffset":{"field":"s","type":"quantitative","scale":{"domain":[-4,4],"range":[-7.7,48.3]}},"fill":{"field":"g","type":"nominal","scale":{"domain":["S","V","A"],"range":["#ffffff","#111111","#8b1111"]},"legend":null},"stroke":{"field":"g","type":"nominal","scale":{"domain":["S","V","A"],"range":["#8a8a8a","#111111","#8b1111"]},"legend":null}}},
     {"data":{"name":"mean"},"transform":[{"filter":"datum.p=='h24'"}],"mark":"tick"}
    ]},
   {"width":130,"height":102,"title":"7 days post MCAO",
    "encoding":{"x":{"field":"g","type":"nominal","scale":{"type":"band","domain":["S","V","A"],"paddingInner":0,"paddingOuter":0.1},"axis":{"title":null,"labelExpr":"datum.label=='S'?'Sham':datum.label=='V'?['MCAO','Vehicle (aCSF)']:['MCAO','Ang-(1-7)']"}},
     "y":{"field":"v","type":"quantitative","scale":{"domain":[-3,1],"nice":false,"zero":false},"axis":{"title":"-ΔCt to Ubc","values":[1,0,-1,-2,-3]}}},
    "layer":[
     {"data":{"name":"pts"},"transform":[{"filter":"datum.p=='h7'"}],"mark":"point","encoding":{"xOffset":{"field":"s","type":"quantitative","scale":{"domain":[-4,4],"range":[-7.7,48.3]}},"fill":{"field":"g","type":"nominal","scale":{"domain":["S","V","A"],"range":["#ffffff","#111111","#8b1111"]},"legend":null},"stroke":{"field":"g","type":"nominal","scale":{"domain":["S","V","A"],"range":["#8a8a8a","#111111","#8b1111"]},"legend":null}}},
     {"data":{"name":"mean"},"transform":[{"filter":"datum.p=='h7'"}],"mark":"tick"}
    ]}
  ]}]}
], "spacing": 29}
], "spacing": 46}
], "spacing": 28}
], "spacing": 16,
"config": {
 "font": "Liberation Sans",
 "view": {"stroke": null},
 "axis": {"grid": false, "domainColor": "#000000", "tickColor": "#000000", "domainWidth": 1.5, "tickWidth": 1.5, "tickSize": 4, "labelFont": "Liberation Sans", "titleFont": "Liberation Sans", "labelColor": "#000000", "titleColor": "#000000", "labelFontSize": 10, "titleFontSize": 10, "titleFontWeight": "normal"},
 "axisY": {"labelFontWeight": "bold", "titlePadding": 4, "labelPadding": 2},
 "axisX": {"labelAngle": -45, "labelAlign": "right", "labelBaseline": "top", "labelLineHeight": 11.5, "labelPadding": 1},
 "title": {"font": "Liberation Sans", "fontSize": 11, "fontWeight": "normal", "color": "#000000", "offset": -2, "frame": "group"},
 "point": {"filled": true, "size": 26, "strokeWidth": 1.3, "opacity": 1},
 "tick": {"thickness": 1.6, "bandSize": 30, "color": "#111111"},
 "text": {"fontSize": 8, "font": "DejaVu Sans", "color": "#111111"}
}
}
